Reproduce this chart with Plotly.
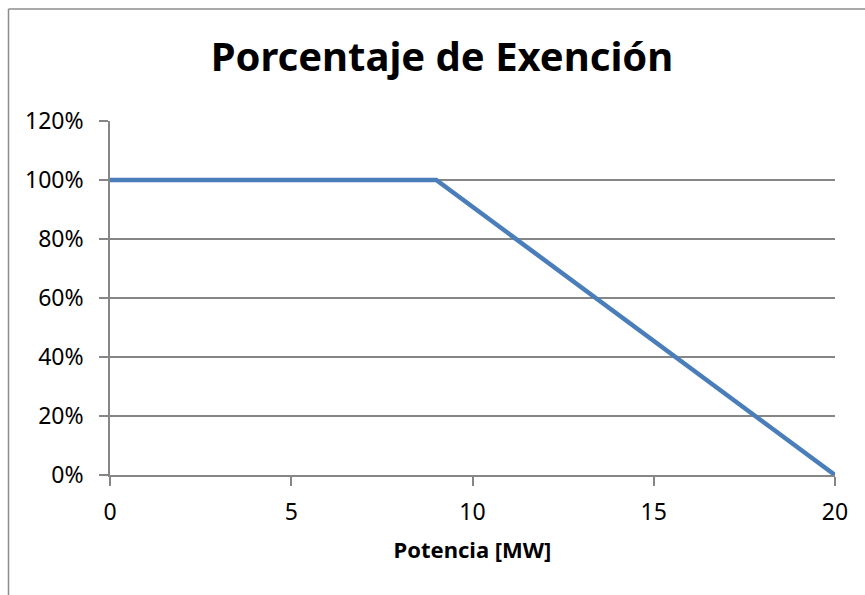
import plotly.graph_objects as go

# Exemption percentage as a function of installed power
potencia_mw = [0, 9, 20]
exencion = [1.00, 1.00, 0.00]

x_ticks = [0, 5, 10, 15, 20]
y_ticks = [0, 0.2, 0.4, 0.6, 0.8, 1.0, 1.2]
y_tick_labels = ["0%", "20%", "40%", "60%", "80%", "100%", "120%"]

FONT = "Noto Sans"
GRID = "#868686"

fig = go.Figure()
fig.add_trace(go.Scatter(
    x=potencia_mw, y=exencion, mode="lines",
    line=dict(color="#4A7EBB", width=4.5),
    showlegend=False, hoverinfo="skip",
))

W, H = 865, 595
L, R, T, B = 110, 30, 121, 120
pw, ph = W - L - R, H - T - B

def px_x(p):
    return (p - L) / pw

def px_y(p):
    return (H - B - p) / ph

fig.update_layout(
    width=W, height=H,
    margin=dict(l=L, r=R, t=T, b=B),
    paper_bgcolor="white", plot_bgcolor="white",
    font=dict(family=FONT, color="black", size=23),
    title=dict(text="<b>Porcentaje de Exención</b>", x=442 / W, xanchor="center",
               y=1 - 57 / H, yanchor="middle",
               font=dict(family=FONT, size=40, color="black")),
    xaxis=dict(
        range=[0, 20], tickvals=x_ticks, ticks="outside", ticklen=9,
        tickcolor=GRID, tickwidth=1.5, showline=True, linecolor=GRID, linewidth=1.5,
        showgrid=False, zeroline=False, tickfont=dict(size=23), ticklabelstandoff=7,
        title=dict(text="<b>Potencia [MW]</b>", font=dict(size=22), standoff=16),
    ),
    yaxis=dict(
        range=[0, 1.2], tickvals=y_ticks, ticktext=y_tick_labels, ticks="outside",
        ticklen=9, tickcolor=GRID, tickwidth=1.5, showline=True, linecolor=GRID,
        linewidth=1.5, showgrid=True, gridcolor=GRID, gridwidth=1.5, zeroline=False,
        tickfont=dict(size=23), ticklabelstandoff=11,
    ),
    shapes=[
        dict(type="line", xref="paper", yref="paper",
             x0=px_x(8.5), x1=px_x(870), y0=px_y(9), y1=px_y(9),
             line=dict(color="#8C8C8C", width=1.5)),
        dict(type="line", xref="paper", yref="paper",
             x0=px_x(8.5), x1=px_x(8.5), y0=px_y(9), y1=px_y(600),
             line=dict(color="#8C8C8C", width=1.5)),
    ],
)

fig.write_html("out.html")
